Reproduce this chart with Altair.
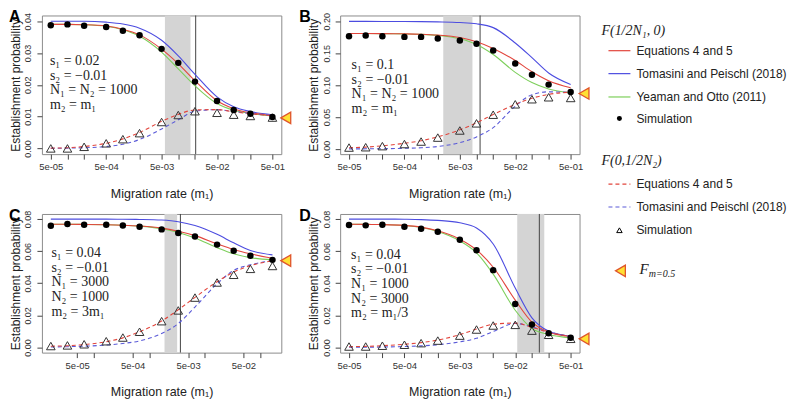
import altair as alt
import pandas as pd

# ---------------- data ----------------
m_vals = [5e-5, 1e-4, 2e-4, 5e-4, 1e-3, 2e-3, 5e-3, 1e-2, 2e-2, 5e-2, 0.1, 0.2, 0.5]
m_vals_C = [1.67e-5, 3.33e-5, 6.67e-5, 1.67e-4, 3.33e-4, 6.67e-4, 1.67e-3, 3.33e-3,
            6.67e-3, 1.67e-2, 3.33e-2, 6.67e-2, 0.167]

ticks_full = [5e-5, 1e-4, 2e-4, 5e-4, 1e-3, 2e-3, 5e-3, 1e-2, 2e-2, 5e-2, 0.1, 0.2, 0.5]
ticks_C = [5e-5, 1e-4, 5e-4, 1e-3, 5e-3, 1e-2, 5e-2, 1e-1]
yticks_A = [0.00, 0.01, 0.02, 0.03, 0.04]
yticks_B = [0.00, 0.05, 0.10, 0.15, 0.20]
yticks_CD = [0.00, 0.02, 0.04, 0.06, 0.08]

sim_A = [0.0387, 0.0390, 0.0386, 0.0382, 0.0370, 0.0356, 0.0313, 0.0269, 0.0210, 0.0149, 0.0121, 0.0109, 0.0099]
tri_A = [0.0000, 0.0000, 0.0005, 0.0016, 0.0029, 0.0048, 0.0083, 0.0105, 0.0117, 0.0112, 0.0106, 0.0102, 0.0097]
red_A = [0.0390, 0.0390, 0.0389, 0.0385, 0.0375, 0.0357, 0.0312, 0.0266, 0.0213, 0.0150, 0.0125, 0.0112, 0.0103]
blue_A = [0.0400, 0.0400, 0.0400, 0.0397, 0.0391, 0.0378, 0.0340, 0.0291, 0.0233, 0.0162, 0.0131, 0.0116, 0.0106]
green_A = [0.0390, 0.0390, 0.0389, 0.0384, 0.0373, 0.0353, 0.0303, 0.0250, 0.0197, 0.0141, 0.0120, 0.0110, 0.0102]
redd_A = [0.0001, 0.0002, 0.0006, 0.0016, 0.0030, 0.0050, 0.0085, 0.0107, 0.0121, 0.0122, 0.0115, 0.0109, 0.0103]
blued_A = [0.0000, 0.0001, 0.0002, 0.0006, 0.0013, 0.0028, 0.0061, 0.0090, 0.0117, 0.0122, 0.0116, 0.0110, 0.0104]

sim_B = [0.1765, 0.1776, 0.1765, 0.1755, 0.1755, 0.1729, 0.1698, 0.1646, 0.1542, 0.1340, 0.1164, 0.1008, 0.0893]
tri_B = [0.0023, 0.0028, 0.0045, 0.0078, 0.0117, 0.0179, 0.0290, 0.0402, 0.0537, 0.0700, 0.0779, 0.0810, 0.0799]
red_B = [0.1807, 0.1807, 0.1806, 0.1803, 0.1797, 0.1783, 0.1745, 0.1680, 0.1575, 0.1385, 0.1210, 0.1070, 0.0960]
blue_B = [0.1998, 0.1998, 0.1997, 0.1996, 0.1994, 0.1990, 0.1980, 0.1960, 0.1900, 0.1660, 0.1430, 0.1190, 0.1010]
green_B = [0.1807, 0.1807, 0.1806, 0.1802, 0.1795, 0.1778, 0.1725, 0.1636, 0.1480, 0.1200, 0.1040, 0.0940, 0.0880]
redd_B = [0.0020, 0.0030, 0.0050, 0.0090, 0.0130, 0.0190, 0.0300, 0.0410, 0.0540, 0.0700, 0.0795, 0.0855, 0.0890]
blued_B = [0.0002, 0.0003, 0.0005, 0.0011, 0.0020, 0.0040, 0.0100, 0.0190, 0.0335, 0.0670, 0.0850, 0.0895, 0.0885]

sim_C = [0.0758, 0.0769, 0.0765, 0.0765, 0.0760, 0.0752, 0.0736, 0.0713, 0.0692, 0.0641, 0.0603, 0.0572, 0.0546]
tri_C = [0.0009, 0.0013, 0.0020, 0.0039, 0.0062, 0.0098, 0.0164, 0.0231, 0.0311, 0.0405, 0.0453, 0.0490, 0.0508]
red_C = [0.0768, 0.0768, 0.0767, 0.0765, 0.0762, 0.0757, 0.0744, 0.0724, 0.0697, 0.0646, 0.0611, 0.0584, 0.0556]
blue_C = [0.0800, 0.0800, 0.0800, 0.0800, 0.0799, 0.0798, 0.0794, 0.0784, 0.0760, 0.0705, 0.0652, 0.0605, 0.0577]
green_C = [0.0768, 0.0768, 0.0767, 0.0765, 0.0762, 0.0756, 0.0740, 0.0717, 0.0682, 0.0622, 0.0584, 0.0560, 0.0546]
redd_C = [0.0008, 0.0011, 0.0018, 0.0036, 0.0060, 0.0098, 0.0165, 0.0235, 0.0312, 0.0410, 0.0470, 0.0510, 0.0540]
blued_C = [0.0003, 0.0005, 0.0008, 0.0015, 0.0025, 0.0041, 0.0087, 0.0149, 0.0252, 0.0397, 0.0480, 0.0515, 0.0541]

sim_D = [0.0763, 0.0761, 0.0765, 0.0752, 0.0740, 0.0721, 0.0672, 0.0606, 0.0482, 0.0271, 0.0143, 0.0089, 0.0060]
tri_D = [0.0006, 0.0006, 0.0011, 0.0017, 0.0027, 0.0043, 0.0074, 0.0112, 0.0137, 0.0141, 0.0105, 0.0079, 0.0054]
red_D = [0.0768, 0.0767, 0.0766, 0.0761, 0.0750, 0.0727, 0.0675, 0.0608, 0.0500, 0.0295, 0.0158, 0.0096, 0.0068]
blue_D = [0.0800, 0.0800, 0.0800, 0.0799, 0.0797, 0.0792, 0.0777, 0.0745, 0.0645, 0.0370, 0.0185, 0.0102, 0.0069]
green_D = [0.0768, 0.0767, 0.0766, 0.0760, 0.0748, 0.0723, 0.0664, 0.0590, 0.0457, 0.0232, 0.0118, 0.0081, 0.0060]
redd_D = [0.0005, 0.0007, 0.0011, 0.0020, 0.0030, 0.0046, 0.0080, 0.0115, 0.0145, 0.0152, 0.0126, 0.0095, 0.0068]
blued_D = [0.0002, 0.0002, 0.0003, 0.0006, 0.0010, 0.0017, 0.0035, 0.0057, 0.0100, 0.0150, 0.0128, 0.0097, 0.0068]

bands = {"A": [5.74e-3, 1.66e-2], "B": [2.51e-3, 8.44e-3], "C": [1.88e-3, 3.18e-3], "D": [5.43e-2, 0.167]}
vlines = {"A": 2.06e-2, "B": 1.16e-2, "C": 3.64e-3, "D": 0.136}
f_m05 = {"A": 0.0096, "B": 0.0868, "C": 0.0541, "D": 0.0054}

notes = {
    "A": ["s₁ = 0.02", "s₂ = −0.01", "N₁ = N₂ = 1000", "m₂ = m₁"],
    "B": ["s₁ = 0.1", "s₂ = −0.01", "N₁ = N₂ = 1000", "m₂ = m₁"],
    "C": ["s₁ = 0.04", "s₂ = −0.01", "N₁ = 3000", "N₂ = 1000", "m₂ = 3m₁"],
    "D": ["s₁ = 0.04", "s₂ = −0.01", "N₁ = 1000", "N₂ = 3000", "m₂ = m₁/3"],
}

legend_head1 = "F(1/2N₁, 0)"
legend_head2 = "F(0,1/2N₂)"
legend_top = ["Equations 4 and 5", "Tomasini and Peischl (2018)", "Yeaman and Otto (2011)", "Simulation"]
legend_bot = ["Equations 4 and 5", "Tomasini and Peischl (2018)", "Simulation"]
x_title = "Migration rate (m₁)"
y_title = "Establishment probability"

W, H = 240, 139
GAP_X, GAP_Y = 59, 60
RED, BLUE, GREEN = "#e2453c", "#4c4ce0", "#7dcf5b"
REDD, BLUED = "#e2453c", "#5a5ad8"
BAND = "#d4d4d4"
SANS = "Liberation Sans"
SERIF = "Liberation Serif"
DASH = [4, 3]
one = pd.DataFrame({"k": [0]})

label_expr = ("substring(format(datum.value, '.0e'), 0, 1) == '5' ? "
              "replace(format(datum.value, '.0e'), 'e-', 'e-0') : ''")


def ltext(txt, x, y, **kw):
    base = dict(align="left", baseline="middle", font=SANS, fontSize=12, color="#222")
    base.update(kw)
    return alt.Chart(one).mark_text(**base).encode(x=alt.value(x), y=alt.value(y), text=alt.value(txt))


def lrule(color, x, y, dash=None):
    kw = dict(color=color, strokeWidth=1.2)
    if dash:
        kw["strokeDash"] = dash
    return alt.Chart(one).mark_rule(**kw).encode(x=alt.value(x - 30), x2=alt.value(x - 8), y=alt.value(y))


def legend_layers(dx):
    lg = [ltext(legend_head1, dx - 37, 15.3, font=SERIF, fontStyle="italic", fontSize=14)]
    ys_top = [35.3, 58.3, 81.7, 103.3]
    for color, y in zip([RED, BLUE, GREEN], ys_top[:3]):
        lg.append(lrule(color, dx, y))
    lg.append(alt.Chart(one).mark_point(shape="circle", size=25, filled=True, color="black", opacity=1)
              .encode(x=alt.value(dx - 19), y=alt.value(ys_top[3])))
    for txt, y in zip(legend_top, ys_top):
        lg.append(ltext(txt, dx - 2, y))

    lg.append(ltext(legend_head2, dx - 37, 146, font=SERIF, fontStyle="italic", fontSize=14))
    ys_bot = [169, 192, 215.3]
    lg.append(lrule(REDD, dx, ys_bot[0], DASH))
    lg.append(lrule(BLUED, dx, ys_bot[1], DASH))
    lg.append(alt.Chart(one).mark_point(shape="triangle-up", size=30, filled=False, color="black",
                                        strokeWidth=1, opacity=1)
              .encode(x=alt.value(dx - 19), y=alt.value(ys_bot[2])))
    for txt, y in zip(legend_bot, ys_bot):
        lg.append(ltext(txt, dx - 2, y))

    lg.append(alt.Chart(one).mark_point(shape="triangle-left", size=130, filled=True, fill="#ffe033",
                                        stroke="#e0552b", strokeWidth=1.3, opacity=1)
              .encode(x=alt.value(dx - 18), y=alt.value(256)))
    lg.append(ltext("F", dx + 1, 254, font=SERIF, fontStyle="italic", fontSize=15))
    lg.append(ltext("m=0.5", dx + 10.5, 259.5, font=SERIF, fontStyle="italic", fontSize=10))
    return lg


def make_panel(key, mx, xdom, ydom, yticks, xticks, series, letter_dx, note_xy, extra=None):
    xaxis = alt.Axis(values=xticks, labelExpr=label_expr, title=x_title, grid=False, domain=False,
                     tickSize=5, tickColor="#444", labelFontSize=9.5, labelFont=SANS, labelColor="#333",
                     labelPadding=2.5, labelFlush=False, labelOverlap=False,
                     titleFont=SANS, titleFontSize=12.5, titleFontWeight="normal", titleColor="#222",
                     titleY=33)
    yaxis = alt.Axis(values=yticks, format=".2f", title=y_title, grid=False, domain=False,
                     tickSize=5, tickColor="#444", labelFontSize=9, labelFont=SANS, labelColor="#333",
                     labelAngle=270, labelAlign="center", labelBaseline="bottom", labelPadding=4,
                     labelFlush=False, labelOverlap=False,
                     titleFont=SANS, titleFontSize=12, titleFontWeight="normal", titleColor="#222",
                     titleX=-19.5)
    xenc = alt.X("m:Q", scale=alt.Scale(type="log", domain=xdom, nice=False), axis=xaxis)
    yenc = alt.Y("p:Q", scale=alt.Scale(domain=ydom, nice=False, zero=False), axis=yaxis)

    layers = []
    band_df = pd.DataFrame({"m": [bands[key][0]], "m2": [bands[key][1]]})
    layers.append(alt.Chart(band_df).mark_rect(color=BAND).encode(
        x=xenc, x2="m2:Q", y=alt.value(0), y2=alt.value(H)))
    layers.append(alt.Chart(pd.DataFrame({"m": [vlines[key]]})).mark_rule(
        color="#444", strokeWidth=1).encode(x=xenc))

    line_specs = [("green", GREEN, None), ("blue", BLUE, None), ("red", RED, None),
                  ("blued", BLUED, DASH), ("redd", REDD, DASH)]
    for name, color, dash in line_specs:
        d = pd.DataFrame({"m": mx, "p": series[name]})
        kw = dict(color=color, strokeWidth=1.1, interpolate="monotone")
        if dash:
            kw["strokeDash"] = dash
        layers.append(alt.Chart(d).mark_line(**kw).encode(x=xenc, y=yenc))

    tri = pd.DataFrame({"m": mx, "p": series["tri"]})
    layers.append(alt.Chart(tri).mark_point(shape="triangle-up", size=75, filled=False,
                                            color="#333", strokeWidth=1, opacity=1).encode(x=xenc, y=yenc))
    sim = pd.DataFrame({"m": mx, "p": series["sim"]})
    layers.append(alt.Chart(sim).mark_point(shape="circle", size=42, filled=True,
                                            color="black", opacity=1).encode(x=xenc, y=yenc))
    fm = pd.DataFrame({"p": [f_m05[key]]})
    layers.append(alt.Chart(fm).mark_point(shape="triangle-left", size=130, filled=True,
                                           fill="#ffe033", stroke="#e0552b", strokeWidth=1.3,
                                           opacity=1).encode(x=alt.value(W + 4.5), y=yenc))
    layers.append(alt.Chart(one).mark_text(align="left", baseline="top", font=SERIF, fontSize=14,
                                           lineHeight=14.6, color="#222").encode(
        x=alt.value(note_xy[0]), y=alt.value(note_xy[1]), text=alt.value(notes[key])))
    layers.append(alt.Chart(one).mark_text(align="left", baseline="top", font=SANS, fontSize=16,
                                           fontWeight="bold", color="black").encode(
        x=alt.value(letter_dx), y=alt.value(-6), text=alt.value(key)))
    if extra:
        layers.extend(extra)
    return alt.layer(*layers).properties(width=W, height=H)


xdom = [3.46e-5, 0.7228]
xdom_C = [1.153e-5, 0.2409]

pA = make_panel("A", m_vals, xdom, [-0.0018, 0.0418], yticks_A, ticks_full,
                dict(sim=sim_A, tri=tri_A, red=red_A, blue=blue_A, green=green_A, redd=redd_A, blued=blued_A),
                -33, (8, 39))
pB = make_panel("B", m_vals, xdom, [-0.008, 0.209], yticks_B, ticks_full,
                dict(sim=sim_B, tri=tri_B, red=red_B, blue=blue_B, green=green_B, redd=redd_B, blued=blued_B),
                -41, (11.5, 43), extra=legend_layers(W + GAP_X))
pC = make_panel("C", m_vals_C, xdom_C, [-0.0032, 0.0832], yticks_CD, ticks_C,
                dict(sim=sim_C, tri=tri_C, red=red_C, blue=blue_C, green=green_C, redd=redd_C, blued=blued_C),
                -33, (9.5, 32.5))
pD = make_panel("D", m_vals, xdom, [-0.0032, 0.0832], yticks_CD, ticks_full,
                dict(sim=sim_D, tri=tri_D, red=red_D, blue=blue_D, green=green_D, redd=redd_D, blued=blued_D),
                -41, (11, 34))

chart = alt.concat(pA, pB, pC, pD, columns=2,
                   spacing={"row": GAP_Y, "column": GAP_X}, bounds="flush").properties(
    padding=0
).configure_view(stroke="#8c8c8c", strokeWidth=1)

chart.save("out.html", embed_options={"renderer": "svg", "actions": False})
